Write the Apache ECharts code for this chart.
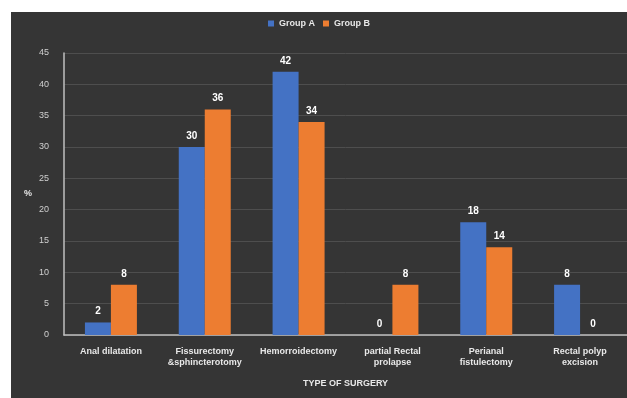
<!DOCTYPE html>
<html>
<head>
<meta charset="utf-8">
<script src="https://cdn.jsdelivr.net/npm/echarts@6/dist/echarts.min.js"></script>
<style>
html,body{margin:0;padding:0;background:#fff;}
#main{position:absolute;left:11px;top:12px;width:616px;height:386px;background:#353535;}
</style>
</head>
<body>
<div id="main"></div>
<script>
let cats = ["Anal dilatation","Fissurectomy\n&sphincterotomy","Hemorroidectomy","partial Rectal\nprolapse","Perianal\nfistulectomy","Rectal polyp\nexcision"];
let groupA = [2,30,42,0,18,8];
let groupB = [8,36,34,8,14,0];
let yTicks = [0,5,10,15,20,25,30,35,40,45];

let lbl = {
    show:true,
    position:'top',
    color:'#ffffff',
    fontWeight:'bold',
    fontSize:10,
    distance:6
};

echarts.init(document.getElementById('main')).setOption({
    backgroundColor:'#353535',
    textStyle:{fontFamily:'Liberation Sans'},
    legend:{
        top:2,
        left:'center',
        itemWidth:6,
        itemHeight:6,
        itemGap:8,
        icon:'rect',
        textStyle:{color:'#e8e8e8',fontSize:9,fontWeight:'bold'},
        data:['Group A','Group B']
    },
    grid:{
        left:53,
        right:0,
        top:41,
        bottom:63
    },
    xAxis:{
        type:'category',
        data:cats,
        name:'TYPE OF SURGERY',
        nameLocation:'middle',
        nameGap:44,
        nameTextStyle:{color:'#e8e8e8',fontSize:9,fontWeight:'bold'},
        axisLine:{lineStyle:{color:'#bfbfbf',width:1.5}},
        axisTick:{show:false},
        axisLabel:{color:'#e8e8e8',fontSize:9,fontWeight:'bold',interval:0,lineHeight:11,margin:11}
    },
    yAxis:{
        type:'value',
        min:yTicks[0],
        max:yTicks[yTicks.length-1],
        interval:5,
        name:'%',
        nameLocation:'middle',
        nameGap:32,
        nameRotate:0,
        nameTextStyle:{color:'#e8e8e8',fontSize:9,fontWeight:'bold'},
        axisLine:{show:true,lineStyle:{color:'#bfbfbf',width:1.5}},
        axisTick:{show:false},
        axisLabel:{color:'#d0d0d0',fontSize:9,margin:15},
        splitLine:{lineStyle:{color:'#4e4e4e',width:1}}
    },
    series:[
        {
            name:'Group A',
            type:'bar',
            barWidth:26,
            barGap:'0%',
            color:'#4472c4',
            label:lbl,
            data:groupA
        },
        {
            name:'Group B',
            type:'bar',
            barWidth:26,
            barGap:'0%',
            color:'#ed7d31',
            label:lbl,
            data:groupB
        }
    ]
});
</script>
</body>
</html>
